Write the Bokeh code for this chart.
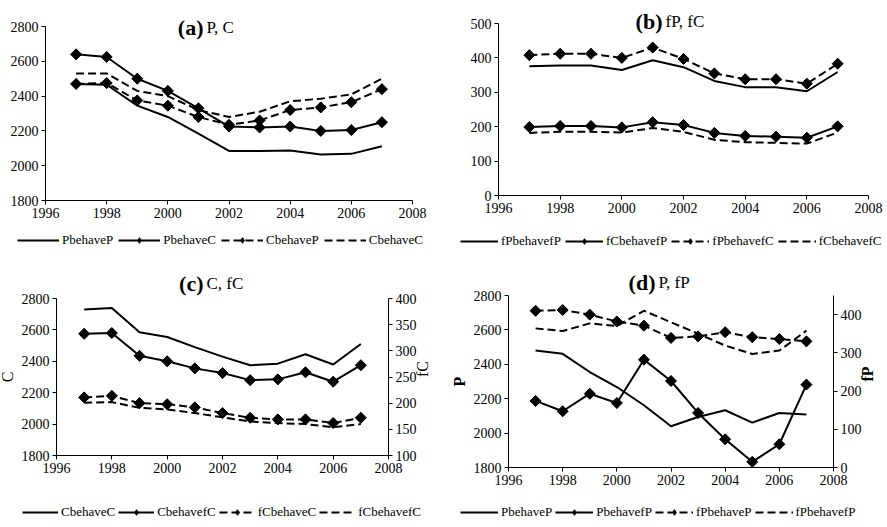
import numpy as np
from bokeh.plotting import figure
from bokeh.models import Range1d, LinearAxis, FixedTicker, Legend, LegendItem, Label
from bokeh.layouts import gridplot
from bokeh.embed import file_html
from bokeh.resources import INLINE

years = [1997, 1998, 1999, 2000, 2001, 2002, 2003, 2004, 2005, 2006, 2007]
x_ticks = [1996, 1998, 2000, 2002, 2004, 2006, 2008]

# (a) P, C
a_PbehaveP = [2470, 2465, 2345, 2280, 2185, 2085, 2085, 2088, 2065, 2068, 2112]
a_PbehaveC = [2640, 2625, 2500, 2430, 2330, 2225, 2220, 2225, 2200, 2205, 2250]
a_CbehaveP = [2470, 2475, 2375, 2345, 2280, 2235, 2260, 2320, 2335, 2365, 2440]
a_CbehaveC = [2530, 2530, 2430, 2400, 2320, 2280, 2310, 2370, 2385, 2410, 2500]
a_yticks = [1800, 2000, 2200, 2400, 2600, 2800]

# (b) fP, fC
b_fPbehavefP = [376, 378, 378, 365, 393, 373, 333, 315, 315, 303, 359]
b_fCbehavefP = [199, 202, 202, 198, 213, 205, 182, 173, 171, 168, 201]
b_fPbehavefC = [408, 412, 412, 400, 430, 397, 355, 338, 338, 325, 383]
b_fCbehavefC = [182, 185, 185, 183, 196, 185, 162, 155, 153, 151, 183]
b_yticks = [0, 100, 200, 300, 400, 500]

# (c) C, fC
c_CbehaveC = [2730, 2740, 2585, 2555, 2490, 2430, 2375, 2385, 2445, 2380, 2510]
c_CbehavefC = [2575, 2580, 2435, 2400, 2355, 2325, 2280, 2285, 2330, 2270, 2375]
c_fCbehaveC = [211, 214, 200, 198, 192, 181, 172, 169, 169, 162, 172]
c_fCbehavefC = [201, 202, 191, 188, 181, 173, 165, 162, 160, 154, 160]
c_yticks = [1800, 2000, 2200, 2400, 2600, 2800]
c_ryticks = [100, 150, 200, 250, 300, 350, 400]

# (d) P, fP
d_PbehaveP = [2480, 2461, 2355, 2268, 2162, 2040, 2094, 2133, 2061, 2117, 2108]
d_PbehavefP = [2187, 2127, 2229, 2175, 2427, 2303, 2117, 1964, 1833, 1935, 2282]
d_fPbehaveP = [410, 412, 400, 382, 371, 339, 343, 354, 341, 336, 330]
d_fPbehavefP = [364, 357, 377, 370, 410, 380, 350, 319, 297, 306, 358]
d_yticks = [1800, 2000, 2200, 2400, 2600, 2800]
d_ryticks = [0, 100, 200, 300, 400]

FONT = "Liberation Serif"
DASH = "8 4"


def span(v0, v1, p0, p1, total):
    """Range so that value v0 sits at pixel p0 and v1 at p1 (pixels from the low edge)."""
    s = (p1 - p0) / (v1 - v0)
    return v0 - p0 / s, v1 + (total - p1) / s


def style_axis(ax, ticks, bounds, loc):
    ax.ticker = FixedTicker(ticks=ticks)
    ax.bounds = bounds
    ax.fixed_location = loc
    ax.axis_line_color = "black"
    ax.axis_line_width = 1
    ax.major_tick_line_color = "black"
    ax.major_tick_out = 4
    ax.major_tick_in = 0
    ax.minor_tick_line_color = None
    ax.major_label_text_font = FONT
    ax.major_label_text_font_size = "14px"
    ax.major_label_text_color = "black"
    ax.major_label_standoff = 3
    ax.axis_label_text_font = FONT
    ax.axis_label_text_font_size = "16px"
    ax.axis_label_text_font_style = "normal"
    ax.axis_label_text_color = "black"
    ax.axis_label_standoff = 3


class Panel:
    def __init__(self, w, h, xpx, ylo, yhi, ypx, yticks):
        self.w, self.h = w, h
        self.xr = span(1996, 2008, xpx[0], xpx[1], w)
        self.yr = span(ylo, yhi, ypx[0], ypx[1], h)
        p = figure(width=w, height=h, output_backend="svg", toolbar_location=None,
                   x_range=Range1d(*self.xr), y_range=Range1d(*self.yr),
                   min_border=0, min_border_left=0, min_border_right=0,
                   min_border_top=0, min_border_bottom=0)
        p.xgrid.visible = False
        p.ygrid.visible = False
        p.outline_line_color = None
        p.background_fill_color = "white"
        p.border_fill_color = "white"
        style_axis(p.xaxis[0], x_ticks, (1996, 2008), ylo)
        style_axis(p.yaxis[0], yticks, (ylo, yhi), 1996)
        self.p = p
        self.items = []

    def px_x(self, px):
        return self.xr[0] + px / self.w * (self.xr[1] - self.xr[0])

    def px_y(self, py_top):
        return self.yr[0] + (self.h - py_top) / self.h * (self.yr[1] - self.yr[0])

    def right_axis(self, lo, hi, ypx, ticks, label, bold):
        self.p.extra_y_ranges = {"right": Range1d(*span(lo, hi, ypx[0], ypx[1], self.h))}
        ax = LinearAxis(y_range_name="right", axis_label=label)
        style_axis(ax, ticks, (lo, hi), 2008)
        ax.axis_label_orientation = np.pi / 2
        if bold:
            ax.axis_label_text_font_style = "bold"
        self.p.add_layout(ax, "right")

    def series(self, label, vals, dashed, marker, rng="default"):
        r = self.p.line(years, vals, line_color="black", line_width=2,
                        line_dash=DASH if dashed else "solid", y_range_name=rng)
        rs = [r]
        if marker:
            # legend-shaped diamond (hidden under the plotted marker)
            rs.append(self.p.scatter(years, vals, marker="diamond", size=10,
                                     fill_color="black", line_color="black", y_range_name=rng))
            self.p.scatter(years, vals, marker="square", angle=np.pi / 4, size=7.8,
                           fill_color="black", line_color="black", y_range_name=rng)
        self.items.append(LegendItem(label=label, renderers=rs))

    def legend(self, x, y_bottom, gw, sp):
        leg = Legend(items=self.items, orientation="horizontal", location=(x, y_bottom),
                     glyph_width=gw, glyph_height=14, label_standoff=3, spacing=sp,
                     padding=0, margin=0, border_line_color=None,
                     background_fill_alpha=0,
                     label_text_font=FONT, label_text_font_size="13px",
                     label_text_color="black")
        self.p.add_layout(leg)

    def title(self, tag, rest, x_split, base_top):
        y = self.px_y(base_top)
        self.p.add_layout(Label(x=self.px_x(x_split - 1.5), y=y, text=tag, text_align="right",
                                text_baseline="alphabetic", text_font=FONT,
                                text_font_size="22px", text_font_style="bold", text_color="black"))
        self.p.add_layout(Label(x=self.px_x(x_split + 1.5), y=y, text=rest, text_align="left",
                                text_baseline="alphabetic", text_font=FONT,
                                text_font_size="17px", text_font_style="normal", text_color="black"))


# ---- (a)
A = Panel(440, 250, (45, 412), 1800, 2800, (50, 224), a_yticks)
A.series("PbehaveP", a_PbehaveP, False, False)
A.series("PbehaveC", a_PbehaveC, False, True)
A.series("CbehaveP", a_CbehaveP, True, True)
A.series("CbehaveC", a_CbehaveC, True, False)
A.legend(17, 2, 42, 5)
A.title("(a)", "P, C", 204.5, 27)

# ---- (b)
B = Panel(447, 250, (58, 428), 0, 500, (55, 227), b_yticks)
B.series("fPbehavefP", b_fPbehavefP, False, False)
B.series("fCbehavefP", b_fCbehavefP, False, True)
B.series("fPbehavefC", b_fPbehavefC, True, True)
B.series("fCbehavefC", b_fCbehavefC, True, False)
B.legend(20, 1, 38, 4)
B.title("(b)", "fP, fC", 223.5, 21)

# ---- (c)
C = Panel(440, 277, (56, 388), 1800, 2800, (72, 229), c_yticks)
C.p.yaxis[0].axis_label = "C"
C.right_axis(100, 400, (72, 229), c_ryticks, "fC", False)
C.series("CbehaveC", c_CbehaveC, False, False)
C.series("CbehavefC", c_CbehavefC, False, True)
C.series("fCbehaveC", c_fCbehaveC, True, True, "right")
C.series("fCbehavefC", c_fCbehavefC, True, False, "right")
C.legend(22, 7, 36, 3)
C.title("(c)", "C, fC", 204.5, 33)

# ---- (d)
D = Panel(447, 277, (68, 393), 1800, 2800, (60, 232), d_yticks)
D.p.yaxis[0].axis_label = "P"
D.p.yaxis[0].axis_label_text_font_style = "bold"
D.right_axis(0, 450, (60, 232), d_ryticks, "fP", True)
D.series("PbehaveP", d_PbehaveP, False, False)
D.series("PbehavefP", d_PbehavefP, False, True)
D.series("fPbehaveP", d_fPbehaveP, True, True, "right")
D.series("fPbehavefP", d_fPbehavefP, True, False, "right")
D.legend(20, 7, 38, 3)
D.title("(d)", "P, fP", 216.5, 32)

grid = gridplot([[A.p, B.p], [C.p, D.p]], toolbar_location=None)

open("out.html", "w").write(file_html(grid, INLINE))
